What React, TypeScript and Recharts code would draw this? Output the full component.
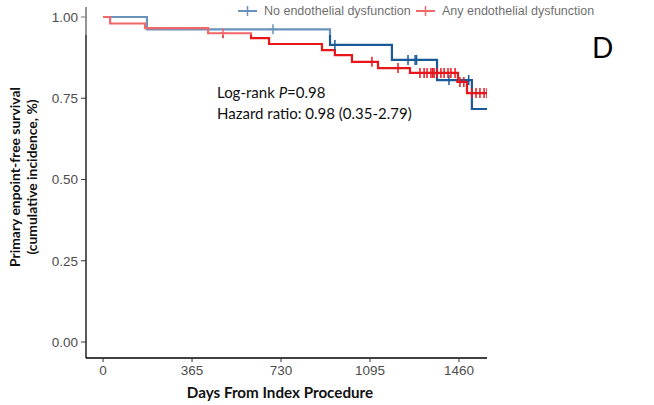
import { ComposedChart, Line, XAxis, YAxis } from "recharts";

// Kaplan-Meier steps (days, survival)
const noDysTimes = [0, 180, 931, 1185, 1370, 1513];
const noDysSurv = [1.0, 0.962, 0.914, 0.868, 0.806, 0.717];
const noDysCensor = [697, 951, 1251, 1280, 1286, 1419, 1500];

const anyDysTimes = [0, 29, 172, 431, 607, 681, 898, 951, 1021, 1128, 1259, 1456, 1493];
const anyDysSurv = [1.0, 0.98, 0.966, 0.95, 0.935, 0.917, 0.898, 0.883, 0.862, 0.843, 0.828, 0.8, 0.766];
const anyDysCensor = [
   492, 1103, 1210, 1300, 1317, 1329, 1345, 1352, 1358, 1370, 1386, 1399, 1415, 1427, 1444, 1464, 1480,
   1513, 1530, 1546, 1563, 1575,
];

const lastFollowUp = 1575;
const xTicks = [0, 365, 730, 1095, 1460];
const yTicks = [0, 0.25, 0.5, 0.75, 1];

const BLUE = "#1b5a98";
const RED = "#e8161b";

type Row = { day: number; s: number; c: boolean };

const buildCurve = (times: number[], surv: number[], censor: number[], end: number): Row[] => {
   const survAt = (t: number) => {
      let s = surv[0];
      times.forEach((tt, i) => {
         if (tt <= t) s = surv[i];
      });
      return s;
   };
   const rows: Row[] = times.map((t, i) => ({ day: t, s: surv[i], c: false }));
   censor.forEach((t) => rows.push({ day: t, s: survAt(t), c: true }));
   if (!censor.includes(end)) rows.push({ day: end, s: survAt(end), c: false });
   return rows.sort((a, b) => a.day - b.day || Number(a.c) - Number(b.c));
};

const noDysData = buildCurve(noDysTimes, noDysSurv, noDysCensor, lastFollowUp);
const anyDysData = buildCurve(anyDysTimes, anyDysSurv, anyDysCensor, lastFollowUp);

const censorMark = (color: string) => (props: any) => {
   const { cx, cy, payload, index } = props;
   if (!payload?.c) return <g key={`n-${index}`} />;
   return (
      <g key={`c-${index}`}>
         <line x1={cx} x2={cx} y1={cy - 5} y2={cy + 5} stroke={color} strokeWidth={1.5} />
         <line x1={cx - 4} x2={cx + 4} y1={cy} y2={cy} stroke={color} strokeWidth={1.5} />
      </g>
   );
};

const LegendItem = ({ color, text, left }: { color: string; text: string; left: number }) => (
   <div style={{ position: "absolute", left, top: 3, display: "flex", alignItems: "center" }}>
      <svg width={22} height={16}>
         <line x1={1} x2={20} y1={8} y2={8} stroke={color} strokeWidth={2} />
         <line x1={10.5} x2={10.5} y1={3} y2={13} stroke={color} strokeWidth={1.5} />
      </svg>
      <span style={{ marginLeft: 5, fontSize: 12.5, color: "#1a1a1a", fontFamily: "Liberation Sans, Arial" }}>
         {text}
      </span>
   </div>
);

const App = () => {
   return (
      <div
         style={{
            position: "absolute",
            left: 0,
            top: 0,
            width: 654,
            height: 405,
            background: "#fff",
            overflow: "hidden",
         }}
      >
         <ComposedChart width={654} height={405} margin={{ top: 7, right: 167, bottom: 0, left: 0 }}>
            <XAxis
               type="number"
               dataKey="day"
               domain={[-70, 1575]}
               ticks={xTicks}
               allowDataOverflow
               height={47}
               tickSize={4}
               tickMargin={3}
               tick={{ fill: "#4d4d4d", fontSize: 13.5, fontFamily: "Liberation Sans, Arial" }}
               axisLine={{ stroke: "#000", strokeWidth: 1.3 }}
               tickLine={{ stroke: "#333" }}
            />
            <YAxis
               type="number"
               dataKey="s"
               domain={[-0.0492, 1.0308]}
               ticks={yTicks}
               allowDataOverflow
               width={86}
               tickSize={5}
               tickMargin={3}
               tickFormatter={(v: number) => v.toFixed(2)}
               tick={{ fill: "#4d4d4d", fontSize: 13.5, fontFamily: "Liberation Sans, Arial" }}
               axisLine={{ stroke: "#000", strokeWidth: 1.3 }}
               tickLine={{ stroke: "#333" }}
            />
            <Line
               data={noDysData}
               dataKey="s"
               type="stepAfter"
               stroke={BLUE}
               strokeWidth={2.2}
               dot={censorMark(BLUE)}
               activeDot={false}
               isAnimationActive={false}
            />
            <Line
               data={anyDysData}
               dataKey="s"
               type="stepAfter"
               stroke={RED}
               strokeWidth={2.2}
               dot={censorMark(RED)}
               activeDot={false}
               isAnimationActive={false}
            />
         </ComposedChart>

         <LegendItem color={BLUE} text="No endothelial dysfunction" left={237} />
         <LegendItem color={RED} text="Any endothelial dysfunction" left={415} />

         {/* faded band over the top of the panel, as in the source figure */}
         <div
            style={{
               position: "absolute",
               left: 80,
               top: 0,
               width: 540,
               height: 35,
               background: "rgba(255,255,255,0.35)",
               pointerEvents: "none",
            }}
         />

         <div
            style={{
               position: "absolute",
               left: 217,
               top: 82,
               fontFamily: "Lato, sans-serif",
               fontSize: 15,
               lineHeight: "21px",
               color: "#111",
            }}
         >
            <div>
               Log-rank <i>P</i>=0.98
            </div>
            <div>Hazard ratio: 0.98 (0.35-2.79)</div>
         </div>

         <div
            style={{
               position: "absolute",
               left: 592,
               top: 30,
               fontFamily: "Lato, sans-serif",
               fontSize: 28,
               color: "#000",
            }}
         >
            D
         </div>

         <div
            style={{
               position: "absolute",
               left: 23,
               top: 177,
               width: 280,
               transform: "translate(-50%, -50%) rotate(-90deg)",
               textAlign: "center",
               fontFamily: "Lato, sans-serif",
               fontWeight: 700,
               fontSize: 13.9,
               lineHeight: "17px",
               color: "#111",
            }}
         >
            <div>Primary enpoint-free survival</div>
            <div>(cumulative incidence, %)</div>
         </div>

         <div
            style={{
               position: "absolute",
               left: 280,
               top: 392,
               transform: "translate(-50%, -50%)",
               whiteSpace: "nowrap",
               fontFamily: "Lato, sans-serif",
               fontWeight: 700,
               fontSize: 15.2,
               color: "#111",
            }}
         >
            Days From Index Procedure
         </div>
      </div>
   );
};

export default App;
